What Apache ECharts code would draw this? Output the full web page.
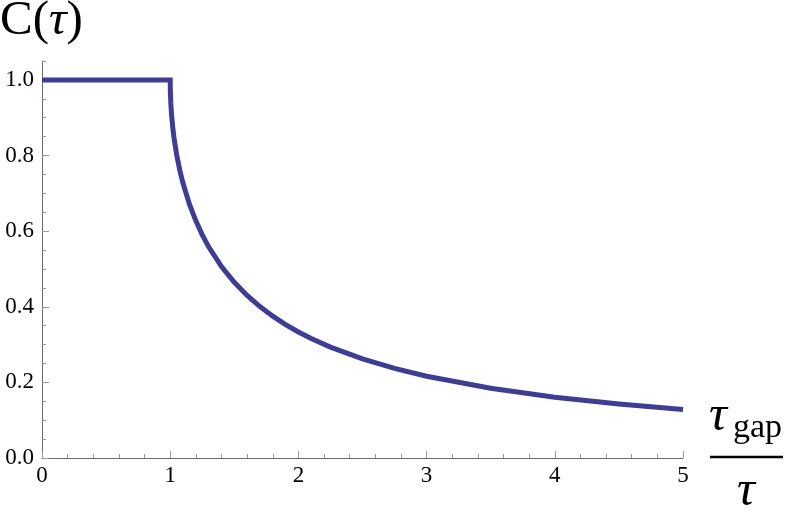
<!DOCTYPE html>
<html><head><meta charset="utf-8">
<script src="https://cdn.jsdelivr.net/npm/echarts@6/dist/echarts.min.js"></script>
<style>html,body{margin:0;padding:0;background:#fff}#c{width:789px;height:513px}</style>
</head><body><div id="c"></div>
<script>
const xValues = [0, 1, 1.001, 1.005, 1.01, 1.02, 1.03, 1.05, 1.075, 1.1, 1.15, 1.2, 1.25, 1.3, 1.4, 1.5, 1.6, 1.7, 1.8, 1.9, 2, 2.1, 2.25, 2.5, 2.75, 3, 3.5, 4, 4.5, 5];
const yValues = [1, 1, 0.9715, 0.9365, 0.9103, 0.8737, 0.8460, 0.8028, 0.7608, 0.7265, 0.6712, 0.6271, 0.5903, 0.5585, 0.5065, 0.4646, 0.4298, 0.4004, 0.3750, 0.3528, 0.3333, 0.3160, 0.2932, 0.2620, 0.2369, 0.2163, 0.1845, 0.1609, 0.1427, 0.1282];
const xTickLabels = ['0', '1', '2', '3', '4', '5'];
const yTickLabels = ['0.0', '0.2', '0.4', '0.6', '0.8', '1.0'];

const FONT = "Liberation Serif";
const W = 789, H = 513;
const gTop = 61, gBottom = 55, gLeft = 42, gRight = 106;
const yMax = 1.05;
const unit = (H - gTop - gBottom) / yMax;

const chart = echarts.init(document.getElementById('c'), null, {renderer: 'canvas'});
const axisLineColor = '#6a6a6a', tickColor = '#9a9a9a';
chart.setOption({
  animation: false,
  grid: [
    {left: gLeft, right: gRight, top: gTop, bottom: gBottom},
    {left: gLeft, right: gRight, top: gTop + 0.05 * unit, bottom: gBottom}
  ],
  xAxis: [
    {type: 'value', gridIndex: 0, min: 0, max: 5, interval: 1,
     axisLine: {show: true, lineStyle: {color: axisLineColor, width: 1}},
     axisTick: {show: true, inside: true, length: 7, lineStyle: {color: tickColor}},
     minorTick: {show: true, splitNumber: 5, length: 4, lineStyle: {color: tickColor}},
     splitLine: {show: false},
     axisLabel: {show: true, margin: 6, color: '#000', fontFamily: FONT, fontSize: 23,
       formatter: v => xTickLabels[Math.round(v)] || ''}},
    {type: 'value', gridIndex: 1, min: 0, max: 5, show: false}
  ],
  yAxis: [
    {type: 'value', gridIndex: 0, min: 0, max: yMax, interval: 0.05,
     axisLine: {show: true, lineStyle: {color: axisLineColor, width: 1}},
     axisTick: {show: true, inside: true, length: 4, lineStyle: {color: tickColor}},
     splitLine: {show: false}, axisLabel: {show: false}},
    {type: 'value', gridIndex: 1, min: 0, max: 1, interval: 0.2,
     axisLine: {show: false},
     axisTick: {show: true, inside: true, length: 7, lineStyle: {color: tickColor}},
     splitLine: {show: false},
     axisLabel: {show: true, margin: 8, color: '#000', fontFamily: FONT, fontSize: 23,
       formatter: v => yTickLabels[Math.round(v / 0.2)] || ''}}
  ],
  series: [{
    type: 'line', xAxisIndex: 0, yAxisIndex: 0,
    data: xValues.map((x, i) => [x, yValues[i]]),
    showSymbol: false, smooth: false,
    lineStyle: {color: '#3d3d99', width: 5, join: 'miter'}
  }],
  graphic: [
    {type: 'text', left: 0, top: -3,
     style: {text: '{n|C(}{i|τ}{n|)}', rich: {
       n: {fontFamily: FONT, fontSize: 49, fill: '#000'},
       i: {fontFamily: FONT, fontSize: 49, fontStyle: 'italic', fill: '#000'}}}},
    {type: 'text', x: 709, y: 417,
     style: {text: 'τ', fontFamily: FONT, fontSize: 50, fontStyle: 'italic', fill: '#000', textVerticalAlign: 'middle', textAlign: 'left'}},
    {type: 'text', x: 733, y: 428,
     style: {text: 'gap', fontFamily: FONT, fontSize: 34, fill: '#000', textVerticalAlign: 'middle', textAlign: 'left'}},
    {type: 'line', shape: {x1: 710, y1: 457, x2: 783, y2: 457}, style: {stroke: '#000', lineWidth: 2.5}},
    {type: 'text', x: 746, y: 492,
     style: {text: 'τ', fontFamily: FONT, fontSize: 50, fontStyle: 'italic', fill: '#000', textVerticalAlign: 'middle', textAlign: 'center'}}
  ]
});
</script></body></html>
